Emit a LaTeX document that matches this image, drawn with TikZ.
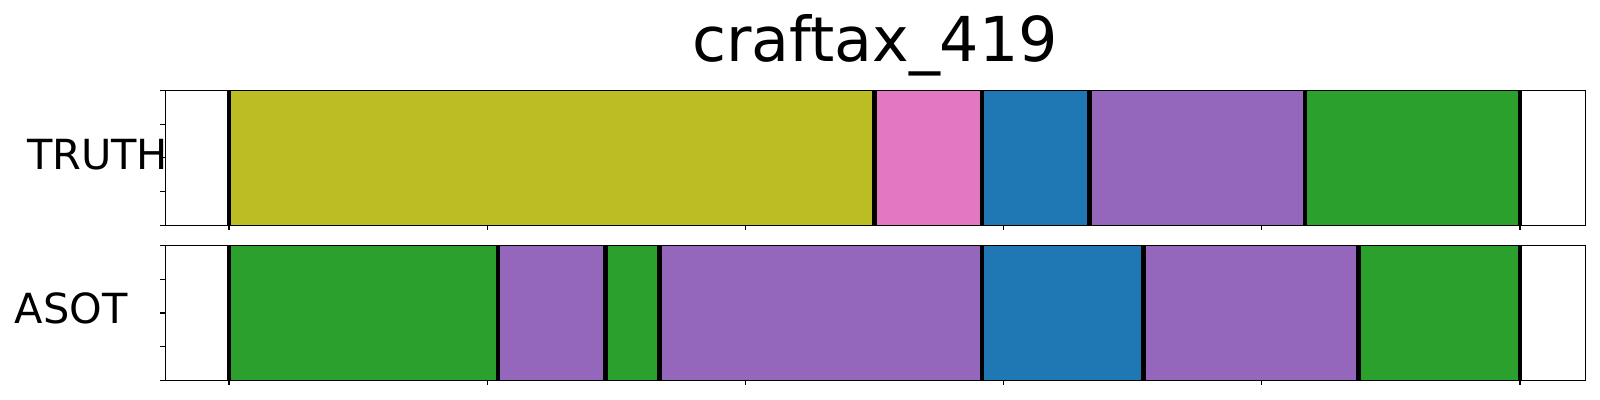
\documentclass[tikz,border=0pt]{standalone}
\usepackage{fontspec}
\setmainfont{DejaVu Sans}
\definecolor{tabolive}{HTML}{BCBD22}
\definecolor{tabpink}{HTML}{E377C2}
\definecolor{tabblue}{HTML}{1F77B4}
\definecolor{tabpurple}{HTML}{9467BD}
\definecolor{tabgreen}{HTML}{2CA02C}
\begin{document}
\begin{tikzpicture}[x=0.01cm, y=-0.01cm]
        \tikzstyle{spine}=[draw=black, line width=0.35pt]
        \tikzstyle{tick}=[draw=black, line width=0.3pt]
        \tikzstyle{boundary}=[draw=black, line width=1.25pt]
        \tikzstyle{rowlabel}=[inner sep=0pt, anchor=base, font=\fontsize{11.8pt}{14pt}\selectfont]
        \tikzstyle{titlelabel}=[inner sep=0pt, anchor=base, font=\fontsize{17.6pt}{20pt}\selectfont]

        \useasboundingbox (0,0) rectangle (1600,400);

        % truth row
        \foreach \a/\b/\c in {0/12/tabolive, 12/14/tabpink, 14/16/tabblue, 16/20/tabpurple, 20/24/tabgreen}
            \fill[\c] ({229+53.79*\a},90.3) rectangle ({229+53.79*\b},225.3);
        \foreach \a in {0,12,14,16,20,24}
            \draw[boundary] ({229+53.79*\a},90.3) -- ({229+53.79*\a},225.3);

        % asot row
        \foreach \a/\b/\c in {0/5/tabgreen, 5/7/tabpurple, 7/8/tabgreen, 8/14/tabpurple, 14/17/tabblue, 17/21/tabpurple, 21/24/tabgreen}
            \fill[\c] ({229+53.79*\a},245.7) rectangle ({229+53.79*\b},380.3);
        \foreach \a in {0,5,7,8,14,17,21,24}
            \draw[boundary] ({229+53.79*\a},245.7) -- ({229+53.79*\a},380.3);

        % axes frames and ticks
        \draw[spine] (165.3,90.3) rectangle (1585.3,225.3);
        \draw[spine] (165.3,245.7) rectangle (1585.3,380.3);
        \foreach \i in {0,...,5} {
            \draw[tick] ({229+258.2*\i},225.3) -- ++(0,5);
            \draw[tick] ({229+258.2*\i},380.3) -- ++(0,5);
        }
        \foreach \j in {0,...,4} {
            \draw[tick] (165.3,{90.3+33.75*\j}) -- ++(-5,0);
            \draw[tick] (165.3,{245.7+33.65*\j}) -- ++(-5,0);
        }

        \node[titlelabel] (title) at (875,61.7) {craftax\_419};
        \node[rowlabel] (truth) at (97.6,169.3) {TRUTH};
        \node[rowlabel] (asot) at (71.3,323.3) {ASOT};
    \end{tikzpicture}
\end{document}
